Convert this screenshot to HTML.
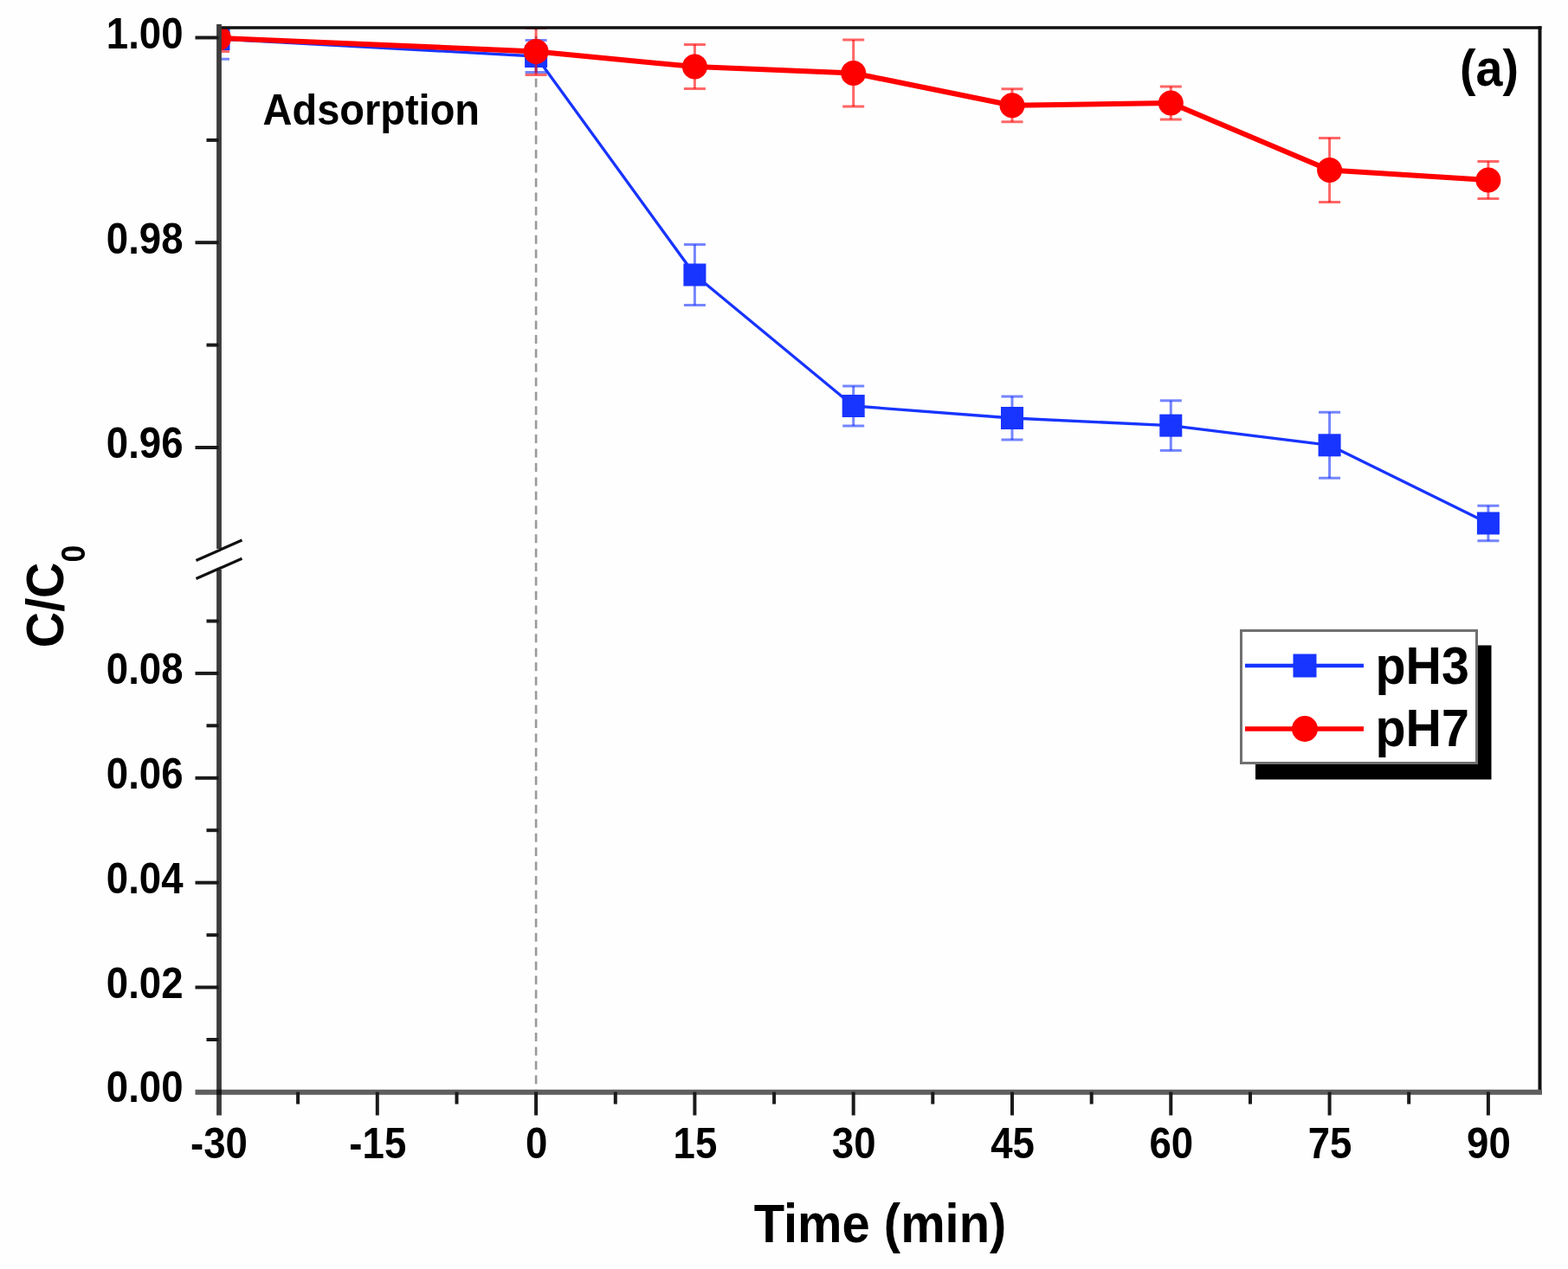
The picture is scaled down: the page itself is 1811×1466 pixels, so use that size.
<!DOCTYPE html><html><head><meta charset="utf-8"><title>C/C0 vs Time</title>
<style>html,body{margin:0;padding:0;background:#fefefe;}svg{display:block;}</style></head><body>
<svg width="1811" height="1466" viewBox="0 0 1811 1466">
<rect width="1811" height="1466" fill="#fefefe"/>
<defs><clipPath id="pc"><rect x="252.5" y="33.0" width="1526.0" height="1230.0"/></clipPath></defs>
<line x1="619.1" y1="31.5" x2="619.1" y2="1261.5" stroke="#9a9a9a" stroke-width="2.6" stroke-dasharray="10 6.45" stroke-dashoffset="6.5"/>
<g clip-path="url(#pc)">
<polyline points="252.5,45.0 619.1,65.0 802.4,317.5 985.7,469.0 1169.0,483.0 1352.3,491.6 1535.6,514.3 1718.9,604.5" fill="none" stroke="#1834ff" stroke-width="3.3" stroke-linejoin="round"/>
<g stroke="#1834ff" stroke-opacity="0.6" stroke-width="3"><line x1="252.5" y1="21.7" x2="252.5" y2="68.3"/><line x1="240.0" y1="21.7" x2="265.0" y2="21.7"/><line x1="240.0" y1="68.3" x2="265.0" y2="68.3"/></g>
<g stroke="#1834ff" stroke-opacity="0.6" stroke-width="3"><line x1="619.1" y1="46.5" x2="619.1" y2="83.5"/><line x1="606.6" y1="46.5" x2="631.6" y2="46.5"/><line x1="606.6" y1="83.5" x2="631.6" y2="83.5"/></g>
<g stroke="#1834ff" stroke-opacity="0.6" stroke-width="3"><line x1="802.4" y1="282.5" x2="802.4" y2="352.5"/><line x1="789.9" y1="282.5" x2="814.9" y2="282.5"/><line x1="789.9" y1="352.5" x2="814.9" y2="352.5"/></g>
<g stroke="#1834ff" stroke-opacity="0.6" stroke-width="3"><line x1="985.7" y1="446.0" x2="985.7" y2="492.0"/><line x1="973.2" y1="446.0" x2="998.2" y2="446.0"/><line x1="973.2" y1="492.0" x2="998.2" y2="492.0"/></g>
<g stroke="#1834ff" stroke-opacity="0.6" stroke-width="3"><line x1="1169.0" y1="458.0" x2="1169.0" y2="508.0"/><line x1="1156.5" y1="458.0" x2="1181.5" y2="458.0"/><line x1="1156.5" y1="508.0" x2="1181.5" y2="508.0"/></g>
<g stroke="#1834ff" stroke-opacity="0.6" stroke-width="3"><line x1="1352.3" y1="462.8" x2="1352.3" y2="520.4"/><line x1="1339.8" y1="462.8" x2="1364.8" y2="462.8"/><line x1="1339.8" y1="520.4" x2="1364.8" y2="520.4"/></g>
<g stroke="#1834ff" stroke-opacity="0.6" stroke-width="3"><line x1="1535.6" y1="476.3" x2="1535.6" y2="552.3"/><line x1="1523.1" y1="476.3" x2="1548.1" y2="476.3"/><line x1="1523.1" y1="552.3" x2="1548.1" y2="552.3"/></g>
<g stroke="#1834ff" stroke-opacity="0.6" stroke-width="3"><line x1="1718.9" y1="584.2" x2="1718.9" y2="624.8"/><line x1="1706.4" y1="584.2" x2="1731.4" y2="584.2"/><line x1="1706.4" y1="624.8" x2="1731.4" y2="624.8"/></g>
<rect x="239.5" y="32.0" width="26" height="26" fill="#1834ff"/>
<rect x="606.1" y="52.0" width="26" height="26" fill="#1834ff"/>
<rect x="789.4" y="304.5" width="26" height="26" fill="#1834ff"/>
<rect x="972.7" y="456.0" width="26" height="26" fill="#1834ff"/>
<rect x="1156.0" y="470.0" width="26" height="26" fill="#1834ff"/>
<rect x="1339.3" y="478.6" width="26" height="26" fill="#1834ff"/>
<rect x="1522.6" y="501.3" width="26" height="26" fill="#1834ff"/>
<rect x="1705.9" y="591.5" width="26" height="26" fill="#1834ff"/>
<polyline points="252.5,44.0 619.1,59.4 802.4,77.1 985.7,84.5 1169.0,121.8 1352.3,119.0 1535.6,196.5 1718.9,208.0" fill="none" stroke="#ff0000" stroke-width="6" stroke-linejoin="round"/>
<g stroke="#ff0000" stroke-opacity="0.6" stroke-width="3"><line x1="252.5" y1="28.5" x2="252.5" y2="59.5"/><line x1="240.0" y1="28.5" x2="265.0" y2="28.5"/><line x1="240.0" y1="59.5" x2="265.0" y2="59.5"/></g>
<g stroke="#ff0000" stroke-opacity="0.6" stroke-width="3"><line x1="619.1" y1="32.4" x2="619.1" y2="86.4"/><line x1="606.6" y1="32.4" x2="631.6" y2="32.4"/><line x1="606.6" y1="86.4" x2="631.6" y2="86.4"/></g>
<g stroke="#ff0000" stroke-opacity="0.6" stroke-width="3"><line x1="802.4" y1="51.6" x2="802.4" y2="102.6"/><line x1="789.9" y1="51.6" x2="814.9" y2="51.6"/><line x1="789.9" y1="102.6" x2="814.9" y2="102.6"/></g>
<g stroke="#ff0000" stroke-opacity="0.6" stroke-width="3"><line x1="985.7" y1="46.1" x2="985.7" y2="122.9"/><line x1="973.2" y1="46.1" x2="998.2" y2="46.1"/><line x1="973.2" y1="122.9" x2="998.2" y2="122.9"/></g>
<g stroke="#ff0000" stroke-opacity="0.6" stroke-width="3"><line x1="1169.0" y1="102.8" x2="1169.0" y2="140.8"/><line x1="1156.5" y1="102.8" x2="1181.5" y2="102.8"/><line x1="1156.5" y1="140.8" x2="1181.5" y2="140.8"/></g>
<g stroke="#ff0000" stroke-opacity="0.6" stroke-width="3"><line x1="1352.3" y1="100.0" x2="1352.3" y2="138.0"/><line x1="1339.8" y1="100.0" x2="1364.8" y2="100.0"/><line x1="1339.8" y1="138.0" x2="1364.8" y2="138.0"/></g>
<g stroke="#ff0000" stroke-opacity="0.6" stroke-width="3"><line x1="1535.6" y1="159.5" x2="1535.6" y2="233.5"/><line x1="1523.1" y1="159.5" x2="1548.1" y2="159.5"/><line x1="1523.1" y1="233.5" x2="1548.1" y2="233.5"/></g>
<g stroke="#ff0000" stroke-opacity="0.6" stroke-width="3"><line x1="1718.9" y1="186.5" x2="1718.9" y2="229.5"/><line x1="1706.4" y1="186.5" x2="1731.4" y2="186.5"/><line x1="1706.4" y1="229.5" x2="1731.4" y2="229.5"/></g>
<circle cx="252.5" cy="44.0" r="14.5" fill="#ff0000"/>
<circle cx="619.1" cy="59.4" r="14.5" fill="#ff0000"/>
<circle cx="802.4" cy="77.1" r="14.5" fill="#ff0000"/>
<circle cx="985.7" cy="84.5" r="14.5" fill="#ff0000"/>
<circle cx="1169.0" cy="121.8" r="14.5" fill="#ff0000"/>
<circle cx="1352.3" cy="119.0" r="14.5" fill="#ff0000"/>
<circle cx="1535.6" cy="196.5" r="14.5" fill="#ff0000"/>
<circle cx="1718.9" cy="208.0" r="14.5" fill="#ff0000"/>
</g>
<line x1="252.5" y1="32.0" x2="1780.5" y2="32.0" stroke="#111" stroke-width="3.6"/>
<line x1="1778.5" y1="30.2" x2="1778.5" y2="1261.5" stroke="#111" stroke-width="4"/>
<line x1="225.5" y1="1261.7" x2="1781.0" y2="1261.7" stroke="#5e5e5e" stroke-width="6"/>
<line x1="253.0" y1="28.0" x2="253.0" y2="634" stroke="#3c3c3c" stroke-width="5.8"/>
<line x1="253.0" y1="658" x2="253.0" y2="1288.5" stroke="#3c3c3c" stroke-width="5.8"/>
<rect x="250.1" y="1258.7" width="5.8" height="6" fill="#151515"/>
<line x1="226.5" y1="647.5" x2="279.5" y2="624" stroke="#111" stroke-width="3.2"/>
<line x1="226.5" y1="668.5" x2="279.5" y2="645.3" stroke="#111" stroke-width="3.2"/>
<line x1="225.5" y1="43.5" x2="252.5" y2="43.5" stroke="#1a1a1a" stroke-width="4"/>
<text transform="translate(211.50,55.80) scale(0.97,1.05)" text-anchor="end" font-size="47" font-family="Liberation Sans, Arial, sans-serif" font-weight="bold">1.00</text>
<line x1="225.5" y1="280.2" x2="252.5" y2="280.2" stroke="#1a1a1a" stroke-width="4"/>
<text transform="translate(211.50,292.54) scale(0.97,1.05)" text-anchor="end" font-size="47" font-family="Liberation Sans, Arial, sans-serif" font-weight="bold">0.98</text>
<line x1="225.5" y1="517.0" x2="252.5" y2="517.0" stroke="#1a1a1a" stroke-width="4"/>
<text transform="translate(211.50,529.28) scale(0.97,1.05)" text-anchor="end" font-size="47" font-family="Liberation Sans, Arial, sans-serif" font-weight="bold">0.96</text>
<line x1="238.5" y1="161.9" x2="252.5" y2="161.9" stroke="#1a1a1a" stroke-width="4"/>
<line x1="238.5" y1="398.6" x2="252.5" y2="398.6" stroke="#1a1a1a" stroke-width="4"/>
<line x1="225.5" y1="777.9" x2="252.5" y2="777.9" stroke="#1a1a1a" stroke-width="4"/>
<text transform="translate(211.50,790.20) scale(0.97,1.05)" text-anchor="end" font-size="47" font-family="Liberation Sans, Arial, sans-serif" font-weight="bold">0.08</text>
<line x1="225.5" y1="898.8" x2="252.5" y2="898.8" stroke="#1a1a1a" stroke-width="4"/>
<text transform="translate(211.50,911.10) scale(0.97,1.05)" text-anchor="end" font-size="47" font-family="Liberation Sans, Arial, sans-serif" font-weight="bold">0.06</text>
<line x1="225.5" y1="1019.7" x2="252.5" y2="1019.7" stroke="#1a1a1a" stroke-width="4"/>
<text transform="translate(211.50,1032.00) scale(0.97,1.05)" text-anchor="end" font-size="47" font-family="Liberation Sans, Arial, sans-serif" font-weight="bold">0.04</text>
<line x1="225.5" y1="1140.6" x2="252.5" y2="1140.6" stroke="#1a1a1a" stroke-width="4"/>
<text transform="translate(211.50,1152.90) scale(0.97,1.05)" text-anchor="end" font-size="47" font-family="Liberation Sans, Arial, sans-serif" font-weight="bold">0.02</text>
<line x1="238.5" y1="717.5" x2="252.5" y2="717.5" stroke="#1a1a1a" stroke-width="4"/>
<line x1="238.5" y1="838.3" x2="252.5" y2="838.3" stroke="#1a1a1a" stroke-width="4"/>
<line x1="238.5" y1="959.2" x2="252.5" y2="959.2" stroke="#1a1a1a" stroke-width="4"/>
<line x1="238.5" y1="1080.2" x2="252.5" y2="1080.2" stroke="#1a1a1a" stroke-width="4"/>
<line x1="238.5" y1="1201.0" x2="252.5" y2="1201.0" stroke="#1a1a1a" stroke-width="4"/>
<text transform="translate(211.50,1273.00) scale(0.97,1.05)" text-anchor="end" font-size="47" font-family="Liberation Sans, Arial, sans-serif" font-weight="bold">0.00</text>
<text transform="translate(253.00,1338.30) scale(0.97,1.05)" text-anchor="middle" font-size="47" font-family="Liberation Sans, Arial, sans-serif" font-weight="bold">-30</text>
<line x1="435.8" y1="1261.5" x2="435.8" y2="1288.5" stroke="#1a1a1a" stroke-width="4"/>
<text transform="translate(436.30,1338.30) scale(0.97,1.05)" text-anchor="middle" font-size="47" font-family="Liberation Sans, Arial, sans-serif" font-weight="bold">-15</text>
<line x1="619.1" y1="1261.5" x2="619.1" y2="1288.5" stroke="#1a1a1a" stroke-width="4"/>
<text transform="translate(619.60,1338.30) scale(0.97,1.05)" text-anchor="middle" font-size="47" font-family="Liberation Sans, Arial, sans-serif" font-weight="bold">0</text>
<line x1="802.4" y1="1261.5" x2="802.4" y2="1288.5" stroke="#1a1a1a" stroke-width="4"/>
<text transform="translate(802.90,1338.30) scale(0.97,1.05)" text-anchor="middle" font-size="47" font-family="Liberation Sans, Arial, sans-serif" font-weight="bold">15</text>
<line x1="985.7" y1="1261.5" x2="985.7" y2="1288.5" stroke="#1a1a1a" stroke-width="4"/>
<text transform="translate(986.20,1338.30) scale(0.97,1.05)" text-anchor="middle" font-size="47" font-family="Liberation Sans, Arial, sans-serif" font-weight="bold">30</text>
<line x1="1169.0" y1="1261.5" x2="1169.0" y2="1288.5" stroke="#1a1a1a" stroke-width="4"/>
<text transform="translate(1169.50,1338.30) scale(0.97,1.05)" text-anchor="middle" font-size="47" font-family="Liberation Sans, Arial, sans-serif" font-weight="bold">45</text>
<line x1="1352.3" y1="1261.5" x2="1352.3" y2="1288.5" stroke="#1a1a1a" stroke-width="4"/>
<text transform="translate(1352.80,1338.30) scale(0.97,1.05)" text-anchor="middle" font-size="47" font-family="Liberation Sans, Arial, sans-serif" font-weight="bold">60</text>
<line x1="1535.6" y1="1261.5" x2="1535.6" y2="1288.5" stroke="#1a1a1a" stroke-width="4"/>
<text transform="translate(1536.10,1338.30) scale(0.97,1.05)" text-anchor="middle" font-size="47" font-family="Liberation Sans, Arial, sans-serif" font-weight="bold">75</text>
<line x1="1718.9" y1="1261.5" x2="1718.9" y2="1288.5" stroke="#1a1a1a" stroke-width="4"/>
<text transform="translate(1719.40,1338.30) scale(0.97,1.05)" text-anchor="middle" font-size="47" font-family="Liberation Sans, Arial, sans-serif" font-weight="bold">90</text>
<line x1="344.1" y1="1261.5" x2="344.1" y2="1275.5" stroke="#1a1a1a" stroke-width="4"/>
<line x1="527.5" y1="1261.5" x2="527.5" y2="1275.5" stroke="#1a1a1a" stroke-width="4"/>
<line x1="710.8" y1="1261.5" x2="710.8" y2="1275.5" stroke="#1a1a1a" stroke-width="4"/>
<line x1="894.1" y1="1261.5" x2="894.1" y2="1275.5" stroke="#1a1a1a" stroke-width="4"/>
<line x1="1077.3" y1="1261.5" x2="1077.3" y2="1275.5" stroke="#1a1a1a" stroke-width="4"/>
<line x1="1260.7" y1="1261.5" x2="1260.7" y2="1275.5" stroke="#1a1a1a" stroke-width="4"/>
<line x1="1444.0" y1="1261.5" x2="1444.0" y2="1275.5" stroke="#1a1a1a" stroke-width="4"/>
<line x1="1627.2" y1="1261.5" x2="1627.2" y2="1275.5" stroke="#1a1a1a" stroke-width="4"/>
<text transform="translate(1016.50,1434.60) scale(0.965,1.04)" text-anchor="middle" font-size="60" font-family="Liberation Sans, Arial, sans-serif" font-weight="bold">Time (min)</text>
<text transform="translate(73,689) rotate(-90) scale(0.956,1.03)" text-anchor="middle" font-size="60" font-family="Liberation Sans, Arial, sans-serif" font-weight="bold">C/C<tspan font-size="37" dy="24">0</tspan></text>
<text transform="translate(303.50,144.40) scale(1.0,1.05)" text-anchor="start" font-size="47" font-family="Liberation Sans, Arial, sans-serif" font-weight="bold">Adsorption</text>
<text transform="translate(1754.00,98.50) scale(0.96,1.03)" text-anchor="end" font-size="58" font-family="Liberation Sans, Arial, sans-serif" font-weight="bold">(a)</text>
<rect x="1450" y="745.5" width="272.5" height="155" fill="#000"/>
<rect x="1433.5" y="728.5" width="272" height="153" fill="#fff" stroke="#707070" stroke-width="3"/>
<line x1="1438" y1="769" x2="1575" y2="769" stroke="#1834ff" stroke-width="4.5"/>
<rect x="1493.5" y="755.5" width="27" height="27" fill="#1834ff"/>
<line x1="1438" y1="842" x2="1575" y2="842" stroke="#ff0000" stroke-width="5.5"/>
<circle cx="1507" cy="842" r="15" fill="#ff0000"/>
<text transform="translate(1588.50,790.00) scale(0.99,1.05)" text-anchor="start" font-size="58" font-family="Liberation Sans, Arial, sans-serif" font-weight="bold">pH3</text>
<text transform="translate(1588.50,862.00) scale(0.99,1.05)" text-anchor="start" font-size="58" font-family="Liberation Sans, Arial, sans-serif" font-weight="bold">pH7</text>
</svg></body></html>
